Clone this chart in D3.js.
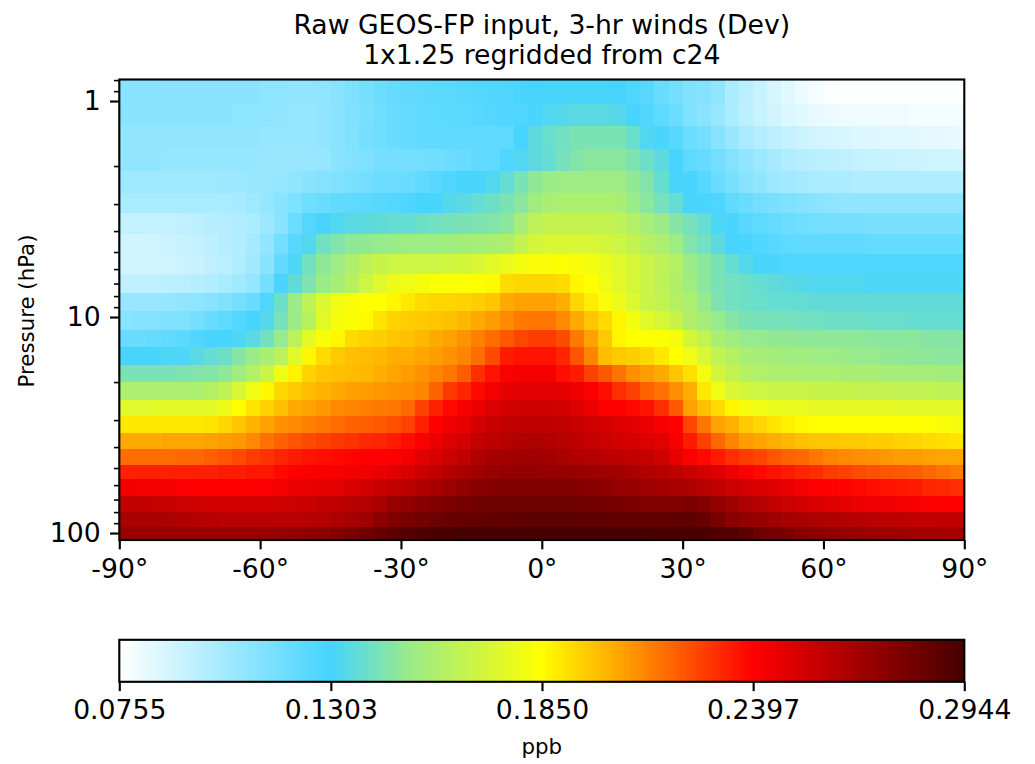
<!DOCTYPE html>
<html><head><meta charset="utf-8">
<script src="https://cdn.jsdelivr.net/npm/d3@7"></script>
<style>html,body{margin:0;padding:0;background:#fff}svg{display:block}text{font-family:"DejaVu Sans",sans-serif;fill:#000}</style>
</head><body><svg id="c" width="1035" height="764"></svg>
<script>
const titleLines = ["Raw GEOS-FP input, 3-hr winds (Dev)", "1x1.25 regridded from c24"];
const yLabel = "Pressure (hPa)";
const cbarLabel = "ppb";
const latStep = 3;
const latCentres = d3.range(-88.5, 89, latStep);
const xTickValues = [-90, -60, -30, 0, 30, 60, 90];
const yTickValues = [1, 10, 100];
const yMinorValues = [0.8,0.9,2,3,4,5,6,7,8,9,20,30,40,50,60,70,80,90];
const cbarTicks = [0.0755, 0.1303, 0.1850, 0.2397, 0.2944];
const pressureEdges = [0.795,1.027,1.308,1.659,2.098,2.652,3.282,4.106,5.082,6.29,7.70,9.33,11.43,13.70,16.59,19.89,24.10,28.58,34.25,40.63,48.2,56.5,67.1,79.5,93.3,107.7];
// zonal mean mixing ratio, in 0.001 ppb; top row = lowest pressure
const milliPpb = [
[111,111,111,110,110,110,110,110,110,110,109,109,108,108,109,111,114,116,119,121,122,123,124,124,125,126,127,128,129,130,131,131,131,131,131,130,128,125,120,116,113,112,108,100,96,92,88,84,81,79,77,76,76,76,76,76,76,76,76,76],
[110,110,110,110,110,110,110,110,109,109,109,108,107,107,108,110,113,115,118,120,121,122,123,124,124,125,126,127,128,129,133,134,135,135,135,134,130,127,123,119,113,110,106,100,95,92,89,86,84,82,81,80,80,80,80,80,79,79,79,79],
[108,108,108,108,108,108,108,108,108,108,107,107,107,107,108,110,113,116,118,120,121,122,122,122,122,122,122,123,130,136,139,141,143,143,143,143,139,133,129,125,119,116,111,106,101,98,95,93,91,89,88,87,86,86,85,85,84,83,83,82],
[108,108,108,107,107,107,107,107,107,107,106,106,106,106,107,110,112,114,116,116,116,117,118,119,120,122,123,127,133,136,138,142,145,147,147,147,144,140,136,130,123,121,117,112,108,105,102,99,97,96,95,94,93,92,92,91,91,90,90,90],
[104,104,104,104,104,104,104,105,105,106,106,107,108,110,112,113,115,117,119,119,120,122,125,128,130,131,133,138,143,148,151,152,152,152,152,152,149,145,138,131,129,125,120,115,111,108,105,103,102,101,100,100,99,99,99,99,99,99,99,99],
[101,101,101,101,101,101,101,101,102,104,107,110,114,118,120,122,123,124,125,126,128,130,131,134,136,138,140,143,147,153,156,157,157,157,157,156,151,147,142,138,131,129,128,122,120,117,115,114,112,110,109,108,108,108,108,108,108,108,108,108],
[93,93,93,93,94,95,97,98,99,100,105,110,119,126,131,133,135,136,137,138,138,140,141,142,143,144,145,147,155,162,165,165,165,165,165,163,159,155,151,146,142,138,132,129,125,123,121,119,118,117,116,116,116,115,115,115,115,115,115,115],
[89,89,90,91,92,93,95,97,99,102,108,117,125,133,141,145,148,149,150,151,152,152,152,153,154,155,156,158,165,170,172,172,172,172,170,168,165,161,157,152,145,141,136,131,129,127,125,123,122,122,122,122,122,121,121,121,121,121,121,121],
[89,89,89,90,91,92,94,96,99,103,110,122,132,141,148,152,158,163,166,168,168,168,168,169,170,172,175,178,181,183,183,184,183,181,178,174,171,167,163,160,151,147,143,138,134,131,129,128,128,128,128,128,128,128,128,128,128,128,128,128],
[94,94,94,95,96,97,99,101,103,107,116,129,137,144,151,155,161,168,174,179,180,182,184,184,184,185,186,193,194,194,194,193,187,185,180,175,171,167,163,158,153,147,143,141,140,138,137,135,134,133,133,133,133,132,132,132,132,132,132,132],
[106,106,106,107,108,109,111,113,116,120,128,140,151,163,173,180,183,185,185,187,190,193,194,194,195,196,198,204,206,206,206,203,194,189,183,178,173,167,164,160,157,150,144,141,140,139,138,138,138,137,137,137,137,137,137,137,137,137,137,137],
[111,112,112,113,113,116,120,123,126,130,134,142,151,161,175,182,184,186,191,195,196,197,198,199,201,204,207,211,214,215,215,211,204,198,193,187,181,175,171,166,158,154,150,146,143,142,142,142,141,141,140,140,140,139,139,139,138,138,138,138],
[120,120,121,122,124,127,129,131,132,135,141,150,162,176,183,187,193,195,196,198,199,201,204,206,209,213,217,221,225,227,227,224,214,206,197,187,185,185,184,182,170,164,156,153,150,150,149,149,148,148,148,148,148,147,147,147,147,146,146,146],
[131,131,131,132,132,135,138,140,146,151,156,162,175,187,193,197,199,200,201,203,203,205,207,209,212,217,224,234,236,236,236,232,222,212,200,197,196,194,190,185,180,172,164,160,156,155,154,153,153,152,152,151,150,150,149,149,148,148,147,147],
[143,143,143,143,144,145,146,148,153,159,167,180,188,195,198,199,200,201,203,205,207,209,212,215,220,230,236,241,242,242,242,237,234,226,221,216,210,207,204,198,192,181,170,165,161,159,158,158,157,157,157,156,156,156,155,155,155,155,154,154],
[157,157,157,157,157,157,160,163,172,180,187,194,197,200,202,204,206,207,208,209,210,212,219,228,232,238,243,247,248,248,248,247,244,241,237,230,226,219,216,210,203,190,180,172,170,168,167,167,167,166,166,166,165,165,165,164,164,164,163,163],
[174,174,175,175,175,175,176,179,185,191,195,199,204,206,208,211,212,213,214,215,218,226,233,238,242,245,250,253,254,254,254,253,250,245,241,240,238,236,230,221,206,199,193,187,182,180,178,177,177,176,176,176,176,176,176,175,175,175,175,175],
[190,190,190,190,190,190,191,194,198,202,206,209,211,213,215,217,219,220,221,223,226,233,240,244,247,252,256,258,259,259,259,258,256,254,252,250,248,245,242,240,225,215,206,202,197,194,191,188,186,185,185,185,185,185,185,185,185,184,183,182],
[204,204,204,205,205,205,206,207,208,211,216,219,222,224,226,228,229,231,232,234,237,241,246,250,253,257,259,261,263,264,263,261,259,257,255,253,252,250,248,242,234,226,218,212,207,205,203,201,199,198,198,197,197,196,196,195,194,193,192,191],
[217,217,217,217,218,218,220,222,224,227,229,232,234,236,237,238,239,240,240,241,243,248,251,255,259,263,266,267,268,268,267,265,263,262,260,259,258,257,254,247,241,238,234,230,227,225,222,219,218,215,212,211,210,209,208,207,207,206,205,205],
[233,233,233,233,233,233,233,234,234,235,235,238,240,241,241,242,243,244,246,248,251,255,258,262,265,268,270,272,272,272,271,271,270,269,268,267,265,263,261,259,256,253,250,245,241,238,236,234,232,230,227,226,224,223,222,221,220,218,216,214],
[244,243,243,242,241,240,240,240,240,241,241,243,245,246,247,248,251,253,256,258,260,263,266,269,272,275,276,277,277,277,277,277,276,275,273,271,270,268,267,265,264,261,258,255,253,251,249,246,243,240,240,239,238,237,236,235,234,232,231,230],
[258,258,257,256,255,254,253,253,253,253,253,254,255,256,258,259,261,262,265,270,272,275,277,278,280,282,283,283,283,283,283,283,282,281,280,279,278,277,277,277,278,276,272,268,264,261,258,255,253,251,249,247,245,244,244,243,242,241,240,240],
[265,265,265,264,263,262,261,260,260,260,260,260,260,261,262,264,266,268,273,277,279,281,283,284,285,285,286,286,287,288,288,288,288,287,287,286,286,286,286,287,288,284,279,274,272,270,268,266,265,264,263,262,261,260,259,259,258,258,258,258],
[270,270,270,270,270,270,270,270,270,270,270,271,272,273,274,276,278,281,284,288,290,292,293,293,294,294,294,294,294,294,294,294,294,294,294,294,294,294,293,293,293,293,291,290,287,283,280,278,275,273,272,271,270,269,268,268,267,267,266,266]
];
const cmapStops = [0, 0.25, 0.345, 0.5, 0.592, 0.75, 1];
const cmapColors = ["#ffffff", "#46d4ff", "#9beb87", "#ffff00", "#ffa500", "#ff0000", "#460000"];

const svg = d3.select("#c");
const box = {left: 119.3, right: 964.3, top: 79.5, bottom: 540};
const cb = {top: 639.8, bottom: 681.8};
const FS = 26.67, FS2 = 21.33, TICK = 9.33, MINOR = 5.33, LW = 2.13;
const x = d3.scaleLinear().domain([-90, 90]).range([box.left, box.right]);
const y = d3.scaleLog().domain([pressureEdges[0], pressureEdges[pressureEdges.length-1]]).range([box.top, box.bottom]);
const vmin = cbarTicks[0], vmax = cbarTicks[cbarTicks.length-1];
const norm = d3.scaleLinear().domain([vmin, vmax]).range([0, 1]).clamp(true);
const cmap = d3.scaleLinear().domain(cmapStops).range(cmapColors).interpolate(d3.interpolateRgb);
const colour = v => cmap(norm(v));

const cells = [];
milliPpb.forEach((row, r) => row.forEach((m, c) => cells.push({r, c, v: m / 1000})));
svg.append("g").attr("shape-rendering", "crispEdges").selectAll("rect").data(cells).join("rect")
  .attr("x", d => x(latCentres[d.c] - latStep/2))
  .attr("width", d => x(latCentres[d.c] + latStep/2) - x(latCentres[d.c] - latStep/2) + 0.5)
  .attr("y", d => y(pressureEdges[d.r]))
  .attr("height", d => y(pressureEdges[d.r+1]) - y(pressureEdges[d.r]) + 0.5)
  .attr("fill", d => colour(d.v));

function styleAxis(g, w) {
  g.select(".domain").remove();
  g.selectAll(".tick line").attr("stroke", "#000").attr("stroke-width", w);
  g.selectAll(".tick text").attr("font-size", FS).attr("font-family", '"DejaVu Sans"');
}
const gx = svg.append("g").attr("transform", `translate(0,${box.bottom})`)
  .call(d3.axisBottom(x).tickValues(xTickValues).tickSize(TICK).tickPadding(TICK).tickFormat(d => d + "°"));
styleAxis(gx, LW);
const gyMinor = svg.append("g").attr("transform", `translate(${box.left},0)`)
  .call(d3.axisLeft(y).tickValues(yMinorValues).tickSize(MINOR).tickFormat(""));
styleAxis(gyMinor, 1.6);
const gy = svg.append("g").attr("transform", `translate(${box.left},0)`)
  .call(d3.axisLeft(y).tickValues(yTickValues).tickSize(TICK).tickPadding(TICK).tickFormat(d3.format("d")));
styleAxis(gy, LW);

svg.append("rect").attr("x", box.left).attr("y", box.top).attr("width", box.right-box.left).attr("height", box.bottom-box.top)
  .attr("fill", "none").attr("stroke", "#000").attr("stroke-width", LW);

svg.selectAll("text.title").data(titleLines).join("text").attr("class", "title")
  .attr("x", (box.left+box.right)/2).attr("y", (d, i) => 33.5 + i*30)
  .attr("text-anchor", "middle").attr("font-size", FS).text(d => d);

svg.append("text").attr("transform", `translate(34,311) rotate(-90)`).attr("text-anchor", "middle")
  .attr("font-size", FS2).text(yLabel);

// colour bar
const cx = d3.scaleLinear().domain([vmin, vmax]).range([box.left, box.right]);
const levels = d3.range(0, 256).map(i => vmin + (vmax - vmin) * i / 256);
const dv = (vmax - vmin) / 256;
svg.append("g").attr("shape-rendering", "crispEdges").selectAll("rect").data(levels).join("rect")
  .attr("x", d => cx(d)).attr("width", d => cx(d + dv) - cx(d) + 0.6)
  .attr("y", cb.top).attr("height", cb.bottom - cb.top).attr("fill", d => colour(d + dv/2));
svg.append("rect").attr("x", box.left).attr("y", cb.top).attr("width", box.right-box.left).attr("height", cb.bottom-cb.top)
  .attr("fill", "none").attr("stroke", "#000").attr("stroke-width", LW);
const gc = svg.append("g").attr("transform", `translate(0,${cb.bottom})`)
  .call(d3.axisBottom(cx).tickValues(cbarTicks).tickSize(TICK).tickPadding(TICK).tickFormat(d3.format(".4f")));
styleAxis(gc, LW);
svg.append("text").attr("x", (box.left+box.right)/2).attr("y", 753.5).attr("text-anchor", "middle")
  .attr("font-size", FS2).text(cbarLabel);
</script></body></html>
